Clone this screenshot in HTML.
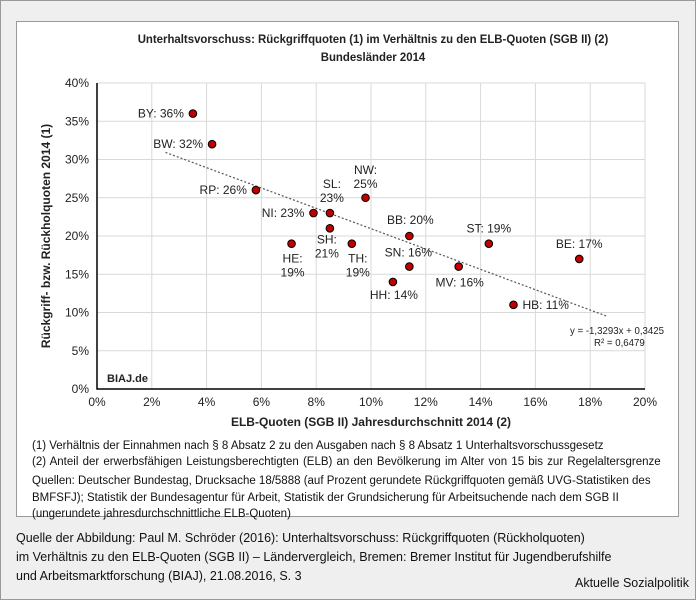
<!DOCTYPE html>
<html><head><meta charset="utf-8"><style>
body{margin:0;width:696px;height:600px;background:#efefef;font-family:"Liberation Sans",Arial,sans-serif;overflow:hidden}
#outer{position:absolute;left:0;top:0;width:694px;height:598px;border:1px solid #999}
#panel{position:absolute;left:16px;top:21px;width:661px;height:494px;background:#fff;border:1px solid #999}
.t{position:absolute;font-size:12px;color:#111;white-space:nowrap;transform-origin:0 0}
</style></head><body>
<div id="outer"></div>
<div id="panel"></div>
<svg id="chart" width="696" height="600" style="position:absolute;left:0;top:0"></svg>
<div class="t" style="left:32px;top:440px;font-size:11.5px">(1) Verhältnis der Einnahmen nach § 8 Absatz 2 zu den Ausgaben nach § 8 Absatz 1 Unterhaltsvorschussgesetz</div>
<div class="t" style="left:32px;top:456px;font-size:11.5px;word-spacing:1px">(2) Anteil der erwerbsfähigen Leistungsberechtigten (ELB) an den Bevölkerung im Alter von 15 bis zur Regelaltersgrenze</div>
<div class="t" style="left:32px;top:473px;font-size:11.5px;line-height:16.5px">Quellen: Deutscher Bundestag, Drucksache 18/5888 (auf Prozent gerundete Rückgriffquoten gemäß UVG-Statistiken des<br>BMFSFJ); Statistik der Bundesagentur für Arbeit, Statistik der Grundsicherung für Arbeitsuchende nach dem SGB II<br>(ungerundete jahresdurchschnittliche ELB-Quoten)</div>
<div class="t" style="left:16px;top:529px;font-size:12.5px;line-height:19px">Quelle der Abbildung: Paul M. Schröder (2016): Unterhaltsvorschuss: Rückgriffquoten (Rückholquoten)<br>im Verhältnis zu den ELB-Quoten (SGB II) – Ländervergleich, Bremen: Bremer Institut für Jugendberufshilfe<br>und Arbeitsmarktforschung (BIAJ), 21.08.2016, S. 3</div>
<div class="t" style="left:575px;top:576px;font-size:12.5px">Aktuelle Sozialpolitik</div>
<script>
const states=["BY","BW","RP","NI","SL","SH","HE","NW","TH","BB","SN","HH","ST","MV","BE","HB"];
const elb=[3.5,4.2,5.8,7.9,8.5,8.5,7.1,9.8,9.3,11.4,11.4,10.8,14.3,13.2,17.6,15.2];
const rueck=[36,32,26,23,23,21,19,25,19,20,16,14,19,16,17,11];
const xTicks=[0,2,4,6,8,10,12,14,16,18,20];
const yTicks=[0,5,10,15,20,25,30,35,40];
const trendSlope=-1.3293, trendIntercept=0.3425;
const lab={BY:[-9,4,"end",0],BW:[-9,4,"end",0],RP:[-9,4,"end",0],NI:[-9,4,"end",0],SL:[2,-25,"middle",1],SH:[-3,15,"middle",1],HE:[1,19,"middle",1],NW:[0,-24,"middle",1],TH:[6,19,"middle",1],BB:[1,-12,"middle",0],SN:[-1,-10,"middle",0],HH:[1,17,"middle",0],ST:[0,-11,"middle",0],MV:[1,20,"middle",0],BE:[0,-11,"middle",0],HB:[9,4,"start",0]};
const X0=97,X1=645,Y0=389,Y1=83;
const sx=v=>X0+(v/20)*(X1-X0), sy=v=>Y0-(v/40)*(Y0-Y1);
const svg=document.getElementById('chart');const NS="http://www.w3.org/2000/svg";
function mk(tag,at,txt,sq){const e=document.createElementNS(NS,tag);for(const k in at)e.setAttribute(k,at[k]);if(txt!=null)e.textContent=txt;svg.appendChild(e);
if(tag==='text'&&sq){const w=e.getComputedTextLength();e.setAttribute('textLength',w*sq);e.setAttribute('lengthAdjust','spacingAndGlyphs');}return e;}
let e;
xTicks.forEach(t=>{if(t>0){e=mk('line',{x1:sx(t),x2:sx(t),y1:Y1,y2:Y0,stroke:'#d9d9d9'});}
e=mk('text',{x:sx(t),y:Y0+17,'text-anchor':'middle','font-size':12,fill:'#222'},t+'%');});
yTicks.forEach(t=>{if(t>0){e=mk('line',{x1:X0,x2:X1,y1:sy(t),y2:sy(t),stroke:'#d9d9d9'});}
e=mk('text',{x:X0-8,y:sy(t)+4,'text-anchor':'end','font-size':12,fill:'#222'},t+'%');});
e=mk('rect',{x:X0,y:Y1,width:X1-X0,height:Y0-Y1,fill:'none',stroke:'#d9d9d9'});
e=mk('path',{d:`M${X0} ${Y1}V${Y0}H${X1}`,fill:'none',stroke:'#000','stroke-width':1.5});
const tx0=2.5,tx1=18.6;
e=mk('line',{x1:sx(tx0),y1:sy((trendSlope*tx0/100+trendIntercept)*100),x2:sx(tx1),y2:sy((trendSlope*tx1/100+trendIntercept)*100),stroke:'#555','stroke-width':1.2,'stroke-dasharray':'2,2'});
states.forEach((s,i)=>{const px=sx(elb[i]),py=sy(rueck[i]);
e=mk('circle',{cx:px,cy:py,r:3.8,fill:'#c00000',stroke:'#000','stroke-width':1});
const l=lab[s];
if(l[3]){e=mk('text',{x:px+l[0],y:py+l[1],'text-anchor':l[2],'font-size':12,fill:'#222'},s+':');
e=mk('text',{x:px+l[0],y:py+l[1]+14,'text-anchor':l[2],'font-size':12,fill:'#222'},rueck[i]+'%');}
else{e=mk('text',{x:px+l[0],y:py+l[1],'text-anchor':l[2],'font-size':12,fill:'#222'},s+': '+rueck[i]+'%');}});
e=mk('text',{x:570,y:334,'font-size':10.5,fill:'#222'},'y = -1,3293x + 0,3425',0.92);
e=mk('text',{x:594,y:346,'font-size':10.5,fill:'#222'},'R² = 0,6479',0.92);
e=mk('text',{x:107,y:382,'font-size':11,'font-weight':'bold',fill:'#222'},'BIAJ.de');
e=mk('text',{x:373,y:43,'text-anchor':'middle','font-size':12,'font-weight':'bold',fill:'#222'},'Unterhaltsvorschuss: Rückgriffquoten (1) im Verhältnis zu den ELB-Quoten (SGB II) (2)',0.95);
e=mk('text',{x:373,y:61,'text-anchor':'middle','font-size':12,'font-weight':'bold',fill:'#222'},'Bundesländer 2014',0.95);
e=mk('text',{x:371,y:426,'text-anchor':'middle','font-size':12,'font-weight':'bold',fill:'#222'},'ELB-Quoten (SGB II) Jahresdurchschnitt 2014 (2)');
e=mk('text',{x:0,y:0,'text-anchor':'middle','font-size':12,'font-weight':'bold',fill:'#222',transform:`translate(50,236) rotate(-90)`},'Rückgriff- bzw. Rückholquoten 2014 (1)');
</script>
</body></html>
